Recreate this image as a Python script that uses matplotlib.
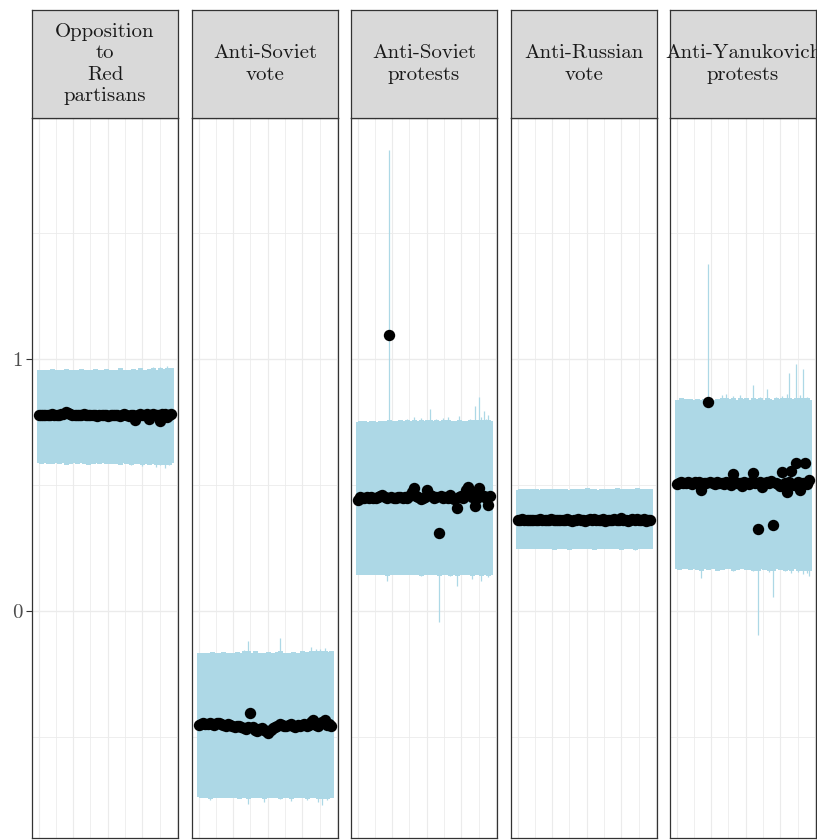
import numpy as np
import matplotlib
matplotlib.use("Agg")
import matplotlib.pyplot as plt

# ---------------- data ----------------
facets = ["Opposition\nto\nRed\npartisans", "Anti-Soviet\nvote", "Anti-Soviet\nprotests",
          "Anti-Russian\nvote", "Anti-Yanukovich\nprotests"]

est_p1 = [0.778,0.779,0.777,0.778,0.776,0.779,0.780,0.778,0.777,0.779,
          0.781,0.783,0.790,0.786,0.780,0.778,0.776,0.779,0.777,0.778,
          0.780,0.776,0.778,0.777,0.779,0.778,0.775,0.777,0.779,0.776,
          0.778,0.774,0.777,0.779,0.776,0.778,0.772,0.777,0.781,0.778,
          0.775,0.779,0.776,0.758,0.778,0.780,0.777,0.779,0.783,0.760,
          0.778,0.781,0.776,0.779,0.752,0.780,0.782,0.770,0.779,0.781]
hi_p1 = [0.955,0.958,0.954,0.956,0.957,0.955,0.959,0.956,0.954,0.958,
         0.957,0.955,0.962,0.956,0.955,0.958,0.954,0.957,0.956,0.960,
         0.955,0.957,0.956,0.954,0.958,0.961,0.955,0.957,0.956,0.955,
         0.959,0.956,0.954,0.957,0.958,0.955,0.963,0.956,0.957,0.955,
         0.958,0.956,0.960,0.955,0.957,0.964,0.956,0.958,0.955,0.962,
         0.957,0.966,0.956,0.958,0.968,0.957,0.960,0.971,0.958,0.965]
lo_p1 = [0.592,0.589,0.591,0.590,0.586,0.591,0.589,0.592,0.590,0.588,
         0.591,0.590,0.584,0.591,0.589,0.590,0.592,0.587,0.590,0.591,
         0.589,0.590,0.585,0.591,0.589,0.590,0.592,0.588,0.590,0.591,
         0.589,0.590,0.586,0.591,0.589,0.590,0.583,0.590,0.591,0.588,
         0.590,0.578,0.589,0.591,0.586,0.590,0.575,0.589,0.591,0.582,
         0.588,0.590,0.571,0.589,0.580,0.591,0.566,0.588,0.578,0.590]

est_p2 = [-0.452,-0.448,-0.445,-0.450,-0.447,-0.443,-0.449,-0.452,-0.446,-0.444,
          -0.448,-0.451,-0.455,-0.449,-0.453,-0.457,-0.461,-0.455,-0.458,-0.462,
          -0.466,-0.470,-0.460,-0.405,-0.462,-0.471,-0.476,-0.468,-0.464,-0.472,
          -0.478,-0.485,-0.474,-0.466,-0.459,-0.455,-0.447,-0.452,-0.458,-0.456,
          -0.453,-0.450,-0.455,-0.459,-0.454,-0.457,-0.451,-0.447,-0.455,-0.452,
          -0.440,-0.432,-0.452,-0.458,-0.445,-0.440,-0.431,-0.452,-0.447,-0.455]
hi_p2 = [-0.168,-0.165,-0.167,-0.170,-0.166,-0.168,-0.164,-0.169,-0.167,-0.165,
         -0.168,-0.162,-0.167,-0.169,-0.166,-0.168,-0.165,-0.163,-0.168,-0.166,
         -0.155,-0.167,-0.120,-0.166,-0.168,-0.160,-0.167,-0.165,-0.169,-0.166,
         -0.168,-0.163,-0.167,-0.165,-0.168,-0.162,-0.108,-0.166,-0.168,-0.165,
         -0.167,-0.169,-0.164,-0.166,-0.168,-0.165,-0.160,-0.167,-0.163,-0.166,
         -0.145,-0.165,-0.150,-0.160,-0.152,-0.166,-0.148,-0.163,-0.167,-0.160]
lo_p2 = [-0.735,-0.738,-0.736,-0.740,-0.737,-0.752,-0.736,-0.739,-0.737,-0.735,
         -0.738,-0.736,-0.740,-0.737,-0.739,-0.736,-0.738,-0.735,-0.741,-0.737,
         -0.739,-0.736,-0.765,-0.738,-0.736,-0.740,-0.737,-0.739,-0.736,-0.758,
         -0.738,-0.736,-0.740,-0.737,-0.739,-0.736,-0.745,-0.737,-0.740,-0.736,
         -0.738,-0.755,-0.737,-0.739,-0.736,-0.740,-0.737,-0.738,-0.750,-0.739,
         -0.736,-0.740,-0.737,-0.760,-0.738,-0.770,-0.739,-0.752,-0.737,-0.740]

est_p3 = [0.440,0.452,0.450,0.447,0.451,0.449,0.452,0.450,0.448,0.453,
          0.455,0.462,0.451,0.449,1.095,0.452,0.450,0.448,0.453,0.451,
          0.449,0.452,0.447,0.455,0.470,0.488,0.458,0.452,0.446,0.450,
          0.453,0.480,0.462,0.455,0.448,0.451,0.310,0.456,0.449,0.452,
          0.447,0.462,0.450,0.445,0.408,0.452,0.455,0.448,0.478,0.490,
          0.470,0.452,0.415,0.447,0.488,0.462,0.455,0.449,0.420,0.458]
hi_p3 = [0.750,0.752,0.749,0.753,0.751,0.750,0.754,0.752,0.750,0.751,
         0.753,0.749,0.752,0.750,1.830,0.752,0.751,0.753,0.750,0.758,
         0.752,0.751,0.760,0.750,0.752,0.770,0.751,0.753,0.765,0.752,
         0.750,0.758,0.800,0.752,0.751,0.762,0.755,0.750,0.765,0.752,
         0.768,0.751,0.753,0.750,0.752,0.772,0.750,0.755,0.752,0.751,
         0.760,0.753,0.815,0.752,0.848,0.770,0.792,0.760,0.776,0.752]
lo_p3 = [0.148,0.146,0.149,0.147,0.150,0.148,0.145,0.149,0.147,0.148,
         0.150,0.146,0.148,0.120,0.149,0.147,0.145,0.148,0.150,0.146,
         0.148,0.149,0.147,0.145,0.148,0.150,0.146,0.148,0.140,0.149,
         0.147,0.145,0.148,0.150,0.146,0.148,-0.044,0.147,0.149,0.145,
         0.148,0.140,0.146,0.149,0.100,0.147,0.148,0.145,0.150,0.146,
         0.148,0.125,0.147,0.145,0.149,0.120,0.146,0.148,0.135,0.147]

est_p4 = [0.362,0.361,0.363,0.360,0.362,0.361,0.359,0.362,0.361,0.360,
          0.363,0.361,0.362,0.360,0.361,0.363,0.362,0.360,0.361,0.359,
          0.362,0.361,0.363,0.360,0.357,0.362,0.361,0.364,0.360,0.362,
          0.356,0.361,0.363,0.360,0.366,0.362,0.359,0.361,0.363,0.358,
          0.362,0.361,0.360,0.363,0.359,0.361,0.368,0.360,0.362,0.358,
          0.361,0.363,0.360,0.366,0.359,0.362,0.364,0.358,0.361,0.362]
hi_p4 = [0.481,0.483,0.480,0.482,0.481,0.484,0.480,0.482,0.483,0.481,
         0.480,0.482,0.484,0.481,0.483,0.480,0.482,0.481,0.485,0.480,
         0.482,0.483,0.481,0.480,0.482,0.484,0.481,0.483,0.480,0.482,
         0.481,0.486,0.480,0.482,0.483,0.481,0.480,0.484,0.482,0.481,
         0.483,0.480,0.482,0.481,0.487,0.480,0.482,0.483,0.481,0.484,
         0.480,0.482,0.481,0.488,0.483,0.480,0.482,0.485,0.481,0.483]
lo_p4 = [0.251,0.249,0.252,0.250,0.248,0.251,0.250,0.252,0.249,0.251,
         0.250,0.248,0.252,0.250,0.251,0.249,0.247,0.251,0.250,0.252,
         0.249,0.251,0.250,0.245,0.251,0.249,0.252,0.250,0.248,0.251,
         0.250,0.252,0.249,0.251,0.244,0.250,0.252,0.249,0.251,0.250,
         0.248,0.251,0.250,0.252,0.249,0.251,0.246,0.250,0.252,0.249,
         0.251,0.250,0.243,0.251,0.249,0.252,0.250,0.248,0.251,0.250]

est_p5 = [0.505,0.508,0.510,0.506,0.509,0.512,0.507,0.505,0.510,0.508,
          0.511,0.480,0.509,0.506,0.829,0.512,0.508,0.505,0.510,0.507,
          0.509,0.504,0.511,0.508,0.500,0.545,0.510,0.506,0.509,0.495,
          0.512,0.507,0.505,0.510,0.548,0.508,0.325,0.511,0.490,0.506,
          0.512,0.508,0.515,0.341,0.509,0.505,0.496,0.552,0.507,0.470,
          0.510,0.555,0.500,0.587,0.512,0.480,0.508,0.587,0.505,0.520]
hi_p5 = [0.836,0.838,0.845,0.837,0.839,0.836,0.840,0.838,0.837,0.839,
         0.836,0.838,0.842,0.837,1.377,0.839,0.836,0.838,0.840,0.837,
         0.855,0.838,0.860,0.837,0.839,0.852,0.838,0.836,0.858,0.839,
         0.837,0.845,0.838,0.836,0.897,0.839,0.837,0.850,0.838,0.836,
         0.880,0.839,0.837,0.838,0.848,0.836,0.839,0.852,0.838,0.862,
         0.944,0.838,0.840,0.980,0.837,0.855,0.960,0.839,0.850,0.838]
lo_p5 = [0.171,0.168,0.170,0.172,0.169,0.171,0.168,0.170,0.172,0.165,
         0.170,0.130,0.169,0.171,0.168,0.170,0.172,0.169,0.163,0.171,
         0.168,0.170,0.172,0.169,0.171,0.158,0.170,0.168,0.172,0.169,
         0.171,0.165,0.170,0.168,0.160,0.171,-0.095,0.169,0.172,0.168,
         0.170,0.155,0.171,0.056,0.169,0.172,0.168,0.170,0.160,0.171,
         0.168,0.152,0.170,0.172,0.155,0.169,0.148,0.171,0.150,0.140]

estimates = [est_p1, est_p2, est_p3, est_p4, est_p5]
lowers = [lo_p1, lo_p2, lo_p3, lo_p4, lo_p5]
uppers = [hi_p1, hi_p2, hi_p3, hi_p4, hi_p5]

y_major = [0, 1]
y_minor = [-0.5, 0.5, 1.5]

# ---------------- figure ----------------
W, H = 817, 840
fig = plt.figure(figsize=(W / 100, H / 100), dpi=100)
FONT = "cmr10"

lefts = [32, 192, 351, 511, 670]
pw = 146
top_px, bot_px, strip_top = 118, 838, 10
BAR = "#ADD8E6"

for i, name in enumerate(facets):
    x0 = lefts[i]
    ax = fig.add_axes([x0 / W, (H - bot_px) / H, pw / W, (bot_px - top_px) / H])
    est = np.asarray(estimates[i])
    lo = np.asarray(lowers[i])
    hi = np.asarray(uppers[i])
    n = len(est)
    x = np.arange(n)
    span = n - 1
    ax.set_xlim(-0.05 * span, 1.05 * span)
    ax.set_ylim(-0.901, 1.956)
    # grid
    step = span * 125 / 960
    k = 0
    while k * step <= 1.05 * span:
        ax.axvline(k * step, color="#EBEBEB", lw=0.8 if k % 2 == 0 else 0.55, zorder=0)
        k += 1
    for yv in y_major:
        ax.axhline(yv, color="#EBEBEB", lw=1.0, zorder=0)
    for yv in y_minor:
        ax.axhline(yv, color="#EBEBEB", lw=0.6, zorder=0)
    # thin full-range error bars (show the spikes as thin lines)
    ax.vlines(x, lo, hi, color=BAR, lw=0.9, zorder=2)
    # the dense core of the bars, drawn wide so neighbouring bars merge
    core_hi = np.minimum(hi, np.median(hi) + 0.006)
    core_lo = np.maximum(lo, np.median(lo) - 0.006)
    ax.vlines(x, core_lo, core_hi, color=BAR, lw=2.4, zorder=2, antialiased=False)
    ax.plot(x, est, "o", color="black", ms=8.2, mec="none", zorder=3)
    ax.set_xticks([])
    ax.set_yticks(y_major)
    if i == 0:
        ax.set_yticklabels(["0", "1"], fontfamily=FONT, fontsize=15, color="#4D4D4D")
        ax.tick_params(axis="y", length=4, width=0.8, color="#333333", pad=3)
    else:
        ax.tick_params(axis="y", length=0, labelleft=False)
    for s in ax.spines.values():
        s.set_color("#333333")
        s.set_linewidth(0.9)

    sax = fig.add_axes([x0 / W, (H - top_px) / H, pw / W, (top_px - strip_top) / H])
    sax.set_facecolor("#D9D9D9")
    sax.set_xticks([])
    sax.set_yticks([])
    for s in sax.spines.values():
        s.set_color("#333333")
        s.set_linewidth(0.9)
    sax.text(0.5, 0.5, name, ha="center", va="center", fontfamily=FONT,
             fontsize=15, color="#1A1A1A", linespacing=1.25,
             transform=sax.transAxes, clip_on=False)

fig.savefig("out.png", dpi=100)
